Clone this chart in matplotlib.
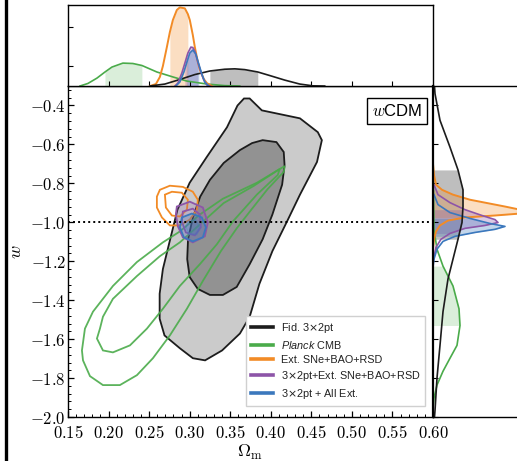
import numpy as np
import matplotlib
matplotlib.use("Agg")
import matplotlib.pyplot as plt
from matplotlib.ticker import MultipleLocator, FuncFormatter, FixedLocator, NullFormatter, AutoMinorLocator
from matplotlib.lines import Line2D

plt.rcParams["mathtext.fontset"] = "cm"
plt.rcParams["mathtext.it"] = "Liberation Sans:italic"

# ---------------- 2D confidence regions (Omega_m, w) ----------------
fid_outer_om = [0.374, 0.389, 0.436, 0.458, 0.463, 0.457, 0.436, 0.420, 0.402, 0.386, 0.374, 0.362,
                0.340, 0.319, 0.304, 0.288, 0.269, 0.263, 0.263, 0.267, 0.276, 0.285, 0.300, 0.321,
                0.346, 0.359, 0.367]
fid_outer_w = [-0.364, -0.425, -0.466, -0.537, -0.578, -0.690, -0.858, -0.996, -1.148, -1.316, -1.485,
               -1.571, -1.658, -1.709, -1.698, -1.647, -1.581, -1.495, -1.367, -1.240, -1.087, -0.935,
               -0.797, -0.665, -0.512, -0.400, -0.364]
fid_inner_om = [0.390, 0.407, 0.416, 0.417, 0.414, 0.402, 0.390, 0.374, 0.358, 0.341, 0.325, 0.310,
                0.300, 0.297, 0.298, 0.304, 0.313, 0.325, 0.342, 0.362, 0.377]
fid_inner_w = [-0.578, -0.588, -0.639, -0.706, -0.807, -0.960, -1.087, -1.215, -1.332, -1.373, -1.373,
               -1.342, -1.281, -1.189, -1.087, -0.975, -0.868, -0.782, -0.695, -0.629, -0.593]

planck_outer_om = [0.1672, 0.1709, 0.1808, 0.2054, 0.2350, 0.2670, 0.2879, 0.3126, 0.3409, 0.3828,
                   0.4172, 0.4160, 0.3960, 0.3760, 0.3580, 0.3385, 0.3163, 0.2966, 0.2756, 0.2547,
                   0.2350, 0.2140, 0.1931, 0.1771, 0.1685]
planck_outer_w = [-1.658, -1.546, -1.459, -1.327, -1.204, -1.103, -1.047, -0.960, -0.879, -0.797,
                  -0.711, -0.741, -0.830, -0.935, -1.031, -1.148, -1.301, -1.444, -1.581, -1.698,
                  -1.785, -1.836, -1.836, -1.790, -1.709]
planck_inner_om = [0.1894, 0.1931, 0.2054, 0.2350, 0.2633, 0.2879, 0.3126, 0.3420, 0.3790, 0.4111,
                   0.4086, 0.3828, 0.3532, 0.3335, 0.3126, 0.2879, 0.2670, 0.2473, 0.2264, 0.2054,
                   0.1931, 0.1857]
planck_inner_w = [-1.546, -1.485, -1.393, -1.276, -1.174, -1.103, -1.011, -0.901, -0.813, -0.726,
                  -0.757, -0.858, -0.996, -1.113, -1.215, -1.327, -1.444, -1.546, -1.632, -1.668,
                  -1.658, -1.597]

ext_outer_om = [0.2596, 0.2633, 0.2756, 0.2916, 0.3039, 0.3101, 0.3089, 0.3002, 0.2879, 0.2756, 0.2658, 0.2596]
ext_outer_w = [-0.868, -0.833, -0.812, -0.818, -0.843, -0.884, -0.935, -0.986, -1.016, -1.016, -0.975, -0.924]
ext_inner_om = [0.2695, 0.2781, 0.2904, 0.2978, 0.2966, 0.2879, 0.2781, 0.2707]
ext_inner_w = [-0.858, -0.843, -0.848, -0.884, -0.935, -0.970, -0.965, -0.924]

comb_outer_om = [0.2842, 0.3002, 0.3163, 0.3224, 0.3187, 0.3039, 0.2916, 0.2855, 0.2830]
comb_outer_w = [-0.919, -0.894, -0.924, -1.001, -1.072, -1.103, -1.077, -1.021, -0.960]
comb_inner_om = [0.2916, 0.3039, 0.3126, 0.3138, 0.3064, 0.2953, 0.2904]
comb_inner_w = [-0.945, -0.930, -0.960, -1.026, -1.067, -1.052, -0.996]

all_outer_om = [0.2904, 0.3027, 0.3150, 0.3200, 0.3163, 0.3039, 0.2929, 0.2879]
all_outer_w = [-0.975, -0.955, -0.975, -1.026, -1.077, -1.098, -1.077, -1.026]
all_inner_om = [0.2978, 0.3076, 0.3126, 0.3089, 0.2990, 0.2953]
all_inner_w = [-0.996, -0.986, -1.026, -1.062, -1.062, -1.026]

# ---------------- 1D marginals of Omega_m ----------------
om_fid = [0.2510, 0.2695, 0.2879, 0.3064, 0.3249, 0.3433, 0.3557, 0.3680, 0.3840, 0.3988, 0.4172, 0.4357, 0.4517, 0.4665]
p_fid = [0.0, 1.0, 3.3, 5.8, 7.6, 8.5, 8.7, 8.3, 7.1, 5.3, 3.0, 1.0, 0.1, 0.0]
om_planck = [0.1648, 0.1746, 0.1857, 0.1956, 0.2042, 0.2177, 0.2300, 0.2411, 0.2596, 0.2793, 0.2966, 0.3212, 0.3433, 0.3618]
p_planck = [0.0, 1.3, 4.0, 7.1, 9.6, 11.6, 11.4, 10.4, 7.1, 4.6, 2.5, 1.0, 0.2, 0.0]
om_ext = [0.2510, 0.2584, 0.2633, 0.2670, 0.2719, 0.2756, 0.2793, 0.2842, 0.2879, 0.2941, 0.2978, 0.3002,
          0.3039, 0.3064, 0.3101, 0.3126, 0.3175, 0.3212, 0.3273]
p_ext = [0.0, 1.0, 4.6, 10.1, 19.7, 27.3, 33.4, 38.5, 39.8, 39.3, 36.4, 33.4, 25.8, 19.7, 12.1, 8.1, 3.5, 1.5, 0.0]
om_comb = [0.2818, 0.2855, 0.2904, 0.2941, 0.2978, 0.3015, 0.3039, 0.3064, 0.3101, 0.3138, 0.3175, 0.3212, 0.3249]
p_comb = [0.0, 1.5, 6.6, 11.6, 16.7, 19.7, 19.5, 17.7, 12.1, 7.1, 3.0, 0.5, 0.0]
om_all = [0.2830, 0.2879, 0.2929, 0.2966, 0.3002, 0.3039, 0.3076, 0.3113, 0.3150, 0.3187, 0.3236]
p_all = [0.0, 2.0, 7.1, 12.1, 16.7, 18.2, 16.2, 11.1, 6.1, 2.0, 0.0]

# 68% intervals shaded in the Omega_m marginals
om_band_fid = (0.321, 0.386)
om_band_planck = (0.195, 0.258)
om_band_ext = (0.272, 0.300)
om_band_comb = (0.294, 0.311)
om_band_all = (0.295, 0.312)

# ---------------- 1D marginals of w ----------------
w_fid = [-0.30, -0.339, -0.476, -0.614, -0.731, -0.833, -0.919, -1.001, -1.087, -1.189, -1.291, -1.459, -1.632, -1.800, -1.968, -2.0]
q_fid = [0.15, 0.2, 0.7, 1.7, 2.5, 3.0, 3.0, 2.9, 2.5, 2.0, 1.5, 1.0, 0.7, 0.4, 0.2, 0.15]
w_planck = [-0.60, -0.85, -1.036, -1.138, -1.225, -1.327, -1.444, -1.530, -1.632, -1.698, -1.765, -1.836, -1.902, -1.953]
q_planck = [0.0, 0.05, 0.1, 0.4, 1.0, 2.0, 2.6, 2.7, 2.4, 1.7, 1.0, 0.4, 0.1, 0.0]
w_ext = [-0.70, -0.756, -0.807, -0.833, -0.858, -0.884, -0.904, -0.919, -0.935, -0.945, -0.955, -0.965,
         -0.975, -0.991, -1.016, -1.047, -1.087, -1.138]
q_ext = [0.0, 0.1, 0.3, 0.9, 2.0, 3.7, 5.7, 7.2, 8.7, 9.5, 8.7, 6.2, 3.2, 1.5, 0.7, 0.3, 0.1, 0.0]
w_comb = [-0.807, -0.858, -0.899, -0.935, -0.965, -0.986, -1.001, -1.016, -1.031, -1.057, -1.087, -1.128, -1.179, -1.215]
q_comb = [0.1, 0.5, 1.7, 3.2, 4.9, 6.2, 6.5, 5.2, 3.2, 1.7, 0.8, 0.3, 0.1, 0.0]
w_all = [-0.858, -0.909, -0.950, -0.980, -1.006, -1.021, -1.036, -1.052, -1.072, -1.098, -1.138, -1.189, -1.230]
q_all = [0.1, 0.5, 1.7, 3.7, 5.7, 7.2, 6.2, 4.2, 2.2, 1.0, 0.4, 0.1, 0.0]

w_band_fid = (-1.174, -0.665)
w_band_planck = (-1.612, -1.225)
w_band_ext = (-0.99, -0.83)
w_band_comb = (-1.06, -0.93)
w_band_all = (-1.08, -0.96)

labels = ["Fid. 3$\\times$2pt", "$\\mathit{Planck}$ CMB", "Ext. SNe+BAO+RSD",
          "3$\\times$2pt+Ext. SNe+BAO+RSD", "3$\\times$2pt + All Ext."]

C_FID = "#1c1c1c"
C_PLANCK = "#4aab4a"
C_EXT = "#f28b26"
C_COMB = "#8d55a8"
C_ALL = "#3b78bd"

fig = plt.figure(figsize=(5.17, 4.61), dpi=100)
ax = fig.add_axes([0.1315, 0.0954, 0.7060, 0.7180])
axt = fig.add_axes([0.1315, 0.8134, 0.7060, 0.1757])
axr = fig.add_axes([0.8375, 0.0954, 0.2225, 0.7180])

# ---- main panel ----
ax.fill(fid_outer_om, fid_outer_w, facecolor="#cbcbcb", edgecolor=C_FID, lw=1.3, zorder=1)
ax.fill(fid_inner_om, fid_inner_w, facecolor="#929292", edgecolor=C_FID, lw=1.3, zorder=2)
ax.fill(planck_outer_om, planck_outer_w, facecolor="none", edgecolor=C_PLANCK, lw=1.3, alpha=0.9, zorder=3)
ax.fill(planck_inner_om, planck_inner_w, facecolor="none", edgecolor=C_PLANCK, lw=1.3, alpha=0.9, zorder=3)
ax.fill(ext_outer_om, ext_outer_w, facecolor="none", edgecolor=C_EXT, lw=1.3, zorder=4)
ax.fill(ext_inner_om, ext_inner_w, facecolor="none", edgecolor=C_EXT, lw=1.3, zorder=4)
ax.fill(comb_outer_om, comb_outer_w, facecolor=C_COMB, alpha=0.2, edgecolor="none", zorder=5)
ax.fill(comb_outer_om, comb_outer_w, facecolor="none", edgecolor=C_COMB, lw=1.3, zorder=5)
ax.fill(comb_inner_om, comb_inner_w, facecolor="none", edgecolor=C_COMB, lw=1.3, zorder=5)
ax.fill(all_outer_om, all_outer_w, facecolor=C_ALL, alpha=0.25, edgecolor="none", zorder=6)
ax.fill(all_outer_om, all_outer_w, facecolor="none", edgecolor=C_ALL, lw=1.3, zorder=6)
ax.fill(all_inner_om, all_inner_w, facecolor=C_ALL, alpha=0.3, edgecolor=C_ALL, lw=1.2, zorder=6)
ax.axhline(-1.0, color="black", lw=1.4, ls=(0, (1, 1.6)), zorder=7)

ax.set_xlim(0.15, 0.60)
ax.set_ylim(-2.0, -0.3)
ax.xaxis.set_major_locator(MultipleLocator(0.05))
ax.xaxis.set_minor_locator(MultipleLocator(0.01))
ax.yaxis.set_major_locator(MultipleLocator(0.2))
ax.yaxis.set_minor_locator(AutoMinorLocator(5))
ax.xaxis.set_major_formatter(FuncFormatter(lambda v, p: f"${v:.2f}$"))
ax.yaxis.set_major_formatter(FuncFormatter(lambda v, p: f"${v:.1f}$"))
ax.tick_params(which="both", direction="in", top=False, right=False, labelsize=12)
ax.tick_params(which="major", length=4.5, width=0.9)
ax.tick_params(which="minor", length=2.2, width=0.7)
ax.tick_params(axis="x", pad=5)
ax.tick_params(axis="y", pad=1.5)
ax.set_xlabel(r"$\Omega_{\rm m}$", fontsize=13, labelpad=1)
ax.set_ylabel(r"$w$", fontsize=13, labelpad=3.5)
for s in ax.spines.values():
    s.set_linewidth(1.0)

ax.text(0.901, 0.924, r"$w$CDM", transform=ax.transAxes, ha="center", va="center",
        fontsize=12, family="Liberation Sans",
        bbox=dict(boxstyle="square,pad=0.3", facecolor="white", edgecolor="black", lw=1.0), zorder=10)

handles = [Line2D([], [], color=c, lw=2.6) for c in (C_FID, C_PLANCK, C_EXT, C_COMB, C_ALL)]
leg = ax.legend(handles, labels, loc="lower right", bbox_to_anchor=(0.978, 0.033), borderaxespad=0,
                prop={"family": "Liberation Sans", "size": 7.8}, fancybox=False, edgecolor="#d0d0d0",
                framealpha=1.0, handlelength=2.0, labelspacing=0.38, borderpad=0.45, handletextpad=0.7)
leg.set_zorder(11)
for t in leg.get_texts():
    t.set_math_fontfamily("custom")
    t.set_color("#222222")

# ---- top panel: Omega_m marginals ----
def shade(axis, x, y, band, color, alpha):
    x = np.asarray(x)
    y = np.asarray(y)
    m = (x >= band[0]) & (x <= band[1])
    axis.fill_between(x, 0, y, where=m, color=color, alpha=alpha, lw=0, interpolate=False)

shade(axt, om_fid, p_fid, om_band_fid, "#8a8a8a", 0.55)
shade(axt, om_planck, p_planck, om_band_planck, C_PLANCK, 0.2)
shade(axt, om_ext, p_ext, om_band_ext, C_EXT, 0.28)
shade(axt, om_comb, p_comb, om_band_comb, C_COMB, 0.3)
shade(axt, om_all, p_all, om_band_all, C_ALL, 0.3)
axt.plot(om_planck, p_planck, color=C_PLANCK, lw=1.2)
axt.plot(om_ext, p_ext, color=C_EXT, lw=1.4)
axt.plot(om_fid, p_fid, color=C_FID, lw=1.2)
axt.plot(om_comb, p_comb, color=C_COMB, lw=1.2)
axt.plot(om_all, p_all, color=C_ALL, lw=1.2)
axt.set_xlim(0.15, 0.60)
axt.set_ylim(0, 41)
axt.xaxis.set_major_locator(FixedLocator([0.20, 0.25, 0.30, 0.35, 0.40, 0.45, 0.50, 0.55]))
axt.yaxis.set_major_locator(FixedLocator([10, 30]))
axt.xaxis.set_major_formatter(NullFormatter())
axt.yaxis.set_major_formatter(NullFormatter())
axt.tick_params(direction="in", length=3.5, width=0.8)
for s in axt.spines.values():
    s.set_linewidth(1.0)

# ---- right panel: w marginals ----
def shade_h(axis, w, q, band, color, alpha):
    w = np.asarray(w)
    q = np.asarray(q)
    m = (w >= band[0]) & (w <= band[1])
    axis.fill_betweenx(w, 0, q, where=m, color=color, alpha=alpha, lw=0)

shade_h(axr, w_fid, q_fid, w_band_fid, "#8a8a8a", 0.55)
shade_h(axr, w_planck, q_planck, w_band_planck, C_PLANCK, 0.2)
shade_h(axr, w_ext, q_ext, w_band_ext, C_EXT, 0.28)
shade_h(axr, w_comb, q_comb, w_band_comb, C_COMB, 0.3)
shade_h(axr, w_all, q_all, w_band_all, C_ALL, 0.3)
axr.plot(q_planck, w_planck, color=C_PLANCK, lw=1.2)
axr.plot(q_ext, w_ext, color=C_EXT, lw=1.4)
axr.plot(q_comb, w_comb, color=C_COMB, lw=1.2)
axr.plot(q_all, w_all, color=C_ALL, lw=1.2)
axr.plot(q_fid, w_fid, color=C_FID, lw=1.2)
axr.set_ylim(-2.0, -0.3)
axr.set_xlim(0, 11.5)
axr.yaxis.set_major_locator(MultipleLocator(0.2))
axr.xaxis.set_major_locator(FixedLocator([]))
axr.yaxis.set_major_formatter(NullFormatter())
axr.tick_params(direction="in", length=3.5, width=0.8)
for s in axr.spines.values():
    s.set_linewidth(1.0)
axr.spines["left"].set_linewidth(1.6)

# thick frame rule on the left edge
fig.add_artist(Line2D([6.0 / 517, 6.0 / 517], [0, 1], transform=fig.transFigure, color="black", lw=2.4))

fig.savefig("out.png", dpi=100)
